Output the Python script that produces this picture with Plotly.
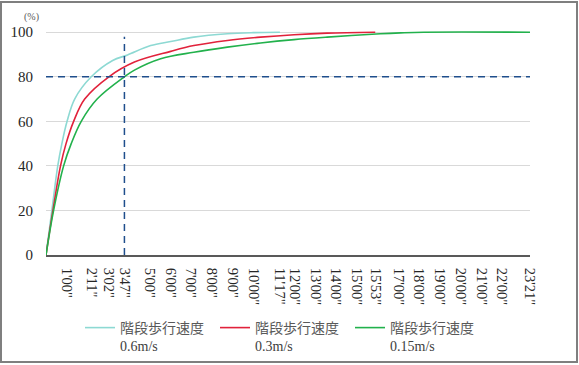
import plotly.graph_objects as go

# ---- data (time in seconds, percentage evacuated) ----
t_06 = [0, 17, 34, 46, 61, 83, 131, 193, 236, 303, 361, 428, 525, 600, 677]
p_06 = [0, 20, 40, 50, 60, 70, 80, 87.3, 89.8, 94.0, 95.8, 97.8, 99.3, 99.8, 100]

t_03 = [0, 20, 42, 58, 80, 112, 182, 256, 361, 428, 525, 621, 718, 814, 953]
p_03 = [0, 20, 40, 50, 60, 70, 80, 86.6, 91.4, 94.0, 96.3, 97.8, 98.9, 99.6, 100]

t_015 = [0, 22, 51, 73, 102, 148, 227, 256, 332, 428, 525, 621, 718, 814, 968, 1026, 1093, 1401]
p_015 = [0, 20, 40, 50, 60, 70, 80, 83.0, 88.1, 91.0, 93.3, 95.2, 96.7, 97.8, 99.3, 99.7, 100, 100]

series_names = ["階段歩行速度", "階段歩行速度", "階段歩行速度"]
series_speeds = ["0.6m/s", "0.3m/s", "0.15m/s"]

tick_seconds = [60, 131, 182, 227, 300, 360, 420, 480, 540, 600, 677, 720, 780,
                840, 900, 953, 1020, 1080, 1140, 1200, 1260, 1320, 1401]
tick_labels = ["1'00\"", "2'11\"", "3'02\"", "3'47\"", "5'00\"", "6'00\"", "7'00\"",
               "8'00\"", "9'00\"", "10'00\"", "11'17\"", "12'00\"", "13'00\"", "14'00\"",
               "15'00\"", "15'53\"", "17'00\"", "18'00\"", "19'00\"", "20'00\"",
               "21'00\"", "22'00\"", "23'21\""]
y_ticks = [0, 20, 40, 60, 80, 100]

threshold_pct = 80
marker_time = 227
x_max = 1401

# ---- layout geometry (pixels) ----
W, H = 579, 365
L, R, T, B = 46, 49, 30, 110
pw, ph = W - L - R, H - T - B


def px_x(px):
    return (px - L) / pw


def px_y(py):
    return (H - B - py) / ph


colors = ["#8dd9d3", "#e1223b", "#22b14c"]
dash_color = "#1f4e8c"

fig = go.Figure()
for t, p, nm, sp, c in zip([t_06, t_03, t_015], [p_06, p_03, p_015],
                           series_names, series_speeds, colors):
    fig.add_trace(go.Scatter(
        x=t, y=p, mode="lines", line=dict(color=c, width=1.6, shape="spline", smoothing=1.0),
        name=f"{nm}<br><span style='font-family:Liberation Serif;fill:#404040'>{sp}</span>",
        hoverinfo="skip"))

fig.add_trace(go.Scatter(x=[0, x_max], y=[threshold_pct, threshold_pct], mode="lines",
                         line=dict(color=dash_color, width=1.5, dash="7px,5px"),
                         showlegend=False, hoverinfo="skip"))
fig.add_trace(go.Scatter(x=[marker_time, marker_time], y=[0, 98], mode="lines",
                         line=dict(color=dash_color, width=1.5, dash="7px,5px"),
                         showlegend=False, hoverinfo="skip"))

fig.update_layout(
    width=W, height=H,
    margin=dict(l=L, r=R, t=T, b=B, pad=0, autoexpand=False),
    paper_bgcolor="white", plot_bgcolor="white",
    showlegend=True,
    legend=dict(orientation="h", x=px_x(80), y=px_y(312), xanchor="left", yanchor="top",
                font=dict(family="Noto Sans CJK JP", size=14, color="#595959"),
                valign="top", entrywidth=90, entrywidthmode="pixels",
                bgcolor="rgba(0,0,0,0)", tracegroupgap=0, itemwidth=30),
    xaxis=dict(range=[0, x_max], tickmode="array", tickvals=tick_seconds, ticktext=tick_labels,
               tickangle=90, showgrid=False, zeroline=False, showline=True,
               linecolor="#595959", linewidth=1.5, ticks="", ticklabelstandoff=8,
               automargin=False,
               tickfont=dict(family="Liberation Serif", size=14.5, color="#262626")),
    yaxis=dict(range=[0, 101], tickmode="array", tickvals=y_ticks, showgrid=True,
               gridcolor="#d9d9d9", gridwidth=1, zeroline=False, showline=False,
               ticks="", ticklabelstandoff=12, automargin=False,
               tickfont=dict(family="Liberation Serif", size=15, color="#262626")),
    shapes=[dict(type="rect", xref="paper", yref="paper",
                 x0=px_x(1), x1=px_x(577), y0=px_y(362), y1=px_y(2),
                 line=dict(color="#7f7f7f", width=2), layer="below")],
    annotations=[dict(text="(%)", xref="paper", yref="paper", x=px_x(31), y=px_y(17),
                      xanchor="center", yanchor="middle", showarrow=False,
                      font=dict(family="Liberation Serif", size=10, color="#595959"))],
)

fig.write_html("out.html", config={"displayModeBar": False},
               post_script="document.body.style.margin='0';document.body.style.overflow='hidden';")
